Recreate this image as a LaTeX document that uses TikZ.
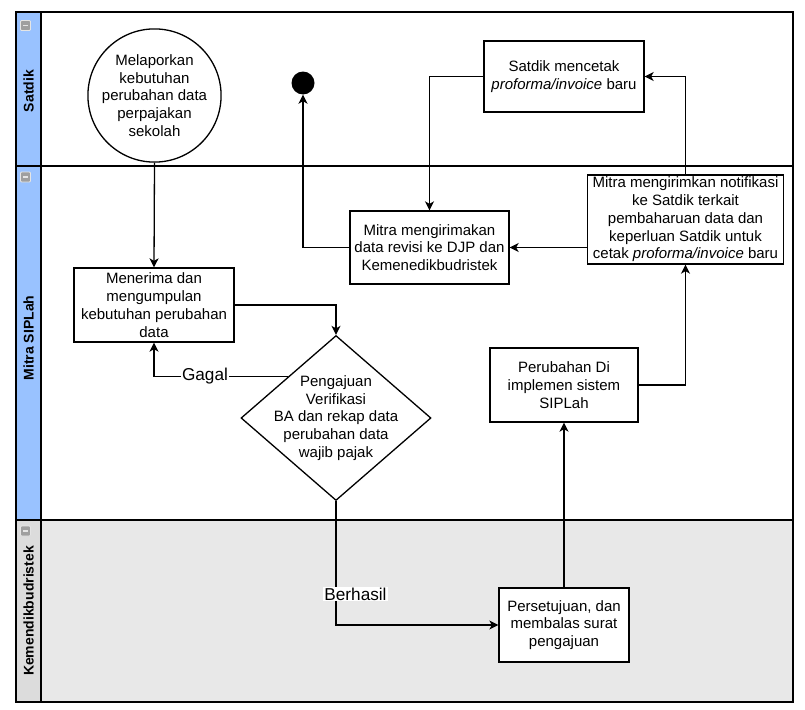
\documentclass[tikz,border=0pt]{standalone}
\usepackage{fontspec}
\setmainfont{Liberation Sans}
\usetikzlibrary{arrows.meta,shapes.geometric}
\definecolor{laneblue}{RGB}{153,194,255}
\definecolor{lanegray}{RGB}{232,232,232}
\definecolor{headgray}{RGB}{220,220,220}
\newcommand\nfont{\fontsize{15.0}{17.8}\selectfont}
\newcommand\lfont{\fontsize{17.2}{19}\selectfont}
\newcommand\hfont{\fontsize{14}{16}\selectfont\bfseries}
\begin{document}
\begin{tikzpicture}[x=1pt,y=-1pt,
  box/.style={draw, line width=1.3pt, fill=white, rectangle, inner sep=0pt, align=center, font=\nfont},
  conn/.style={line width=1.3pt, -{Stealth[length=9pt,width=9pt,inset=2.5pt]}},
  lbl/.style={fill=white, inner sep=1pt, font=\lfont},
  head/.style={rotate=90, font=\hfont},
  icon/.style={rectangle, rounded corners=1pt, minimum size=10pt, inner sep=0pt, fill=gray!75, draw=gray!20, line width=0.8pt,
    path picture={\draw[line width=1.4pt, gray!20] ([xshift=2.5pt]path picture bounding box.west) -- ([xshift=-2.5pt]path picture bounding box.east);}}
]
\useasboundingbox (0,0) rectangle (805,709);
% lanes
\fill[white] (0,0) rectangle (805,709);
\fill[lanegray] (41,520) rectangle (793,702);
\fill[laneblue] (16,12) rectangle (41,520);
\fill[headgray] (16,520) rectangle (41,702);
\draw[line width=1.3pt] (16,12) rectangle (793,702);
\draw[line width=1.3pt] (16,166) -- (793,166);
\draw[line width=1.3pt] (16,520) -- (793,520);
\draw[line width=1.3pt] (41,12) -- (41,702);
\node[head] (h1) at (28.5,91) {Satdik};
\node[head] (h2) at (28.5,338) {Mitra SIPLah};
\node[head] (h3) at (28.5,611) {Kemendikbudristek};
\node[icon] (i1) at (25.5,25.5) {};
\node[icon] (i2) at (25.5,177) {};
\node[icon] (i3) at (25.5,531) {};
% nodes
\node[box, circle, minimum size=125pt] (circ) at (154.5,95.5) {Melaporkan\\kebutuhan\\perubahan data\\perpajakan\\sekolah};
\node[circle, fill=black, minimum size=23pt, inner sep=0pt] (dot) at (303,83) {};
\node[box, minimum width=160pt, minimum height=71pt] (cetak) at (564,76.5) {Satdik mencetak\\\textit{proforma/invoice} baru};
\node[box, minimum width=196pt, minimum height=89pt] (notif) at (685.5,219.5) {Mitra mengirimkan notifikasi\\ke Satdik terkait\\pembaharuan data dan\\keperluan Satdik untuk\\cetak \textit{proforma/invoice} baru};
\node[box, minimum width=159pt, minimum height=73pt] (revisi) at (429.5,247.5) {Mitra mengirimakan\\data revisi ke DJP dan\\Kemenedikbudristek};
\node[box, minimum width=160pt, minimum height=74pt] (terima) at (154,305) {Menerima dan\\mengumpulan\\kebutuhan perubahan\\data};
\node[draw, diamond, line width=1.3pt, fill=white, minimum width=190pt, minimum height=165pt, inner sep=0pt] (dec) at (336,418) {};
\node[font=\nfont, align=center, inner sep=0pt] (dectext) at (dec.center) {Pengajuan\\Verifikasi\\BA dan rekap data\\perubahan data\\wajib pajak};
\node[box, minimum width=148pt, minimum height=74pt] (ubah) at (564,385) {Perubahan Di\\implemen sistem\\SIPLah};
\node[box, minimum width=130pt, minimum height=74pt] (setuju) at (564,625) {Persetujuan, dan\\membalas surat\\pengajuan};
% connectors
\draw[conn] (circ.south) -- (terima.north);
\draw[conn] (terima.east) -| (dec.north);
\draw[conn] (dec.north west) -| (terima.south);
\draw[conn] (dec.south) |- (setuju.west);
\draw[conn] (setuju.north) -- (ubah.south);
\draw[conn] (ubah.east) -| (notif.south);
\draw[conn] (notif.north) |- (cetak.east);
\draw[conn] (cetak.west) -| (revisi.north);
\draw[conn] (notif.west |- revisi.east) -- (revisi.east);
\draw[conn] (revisi.west) -| (dot.south);
% labels
\node[lbl] (gagal) at (205,376.5) {Gagal};
\node[lbl] (berhasil) at (355.5,594) {Berhasil};
\end{tikzpicture}
\end{document}
